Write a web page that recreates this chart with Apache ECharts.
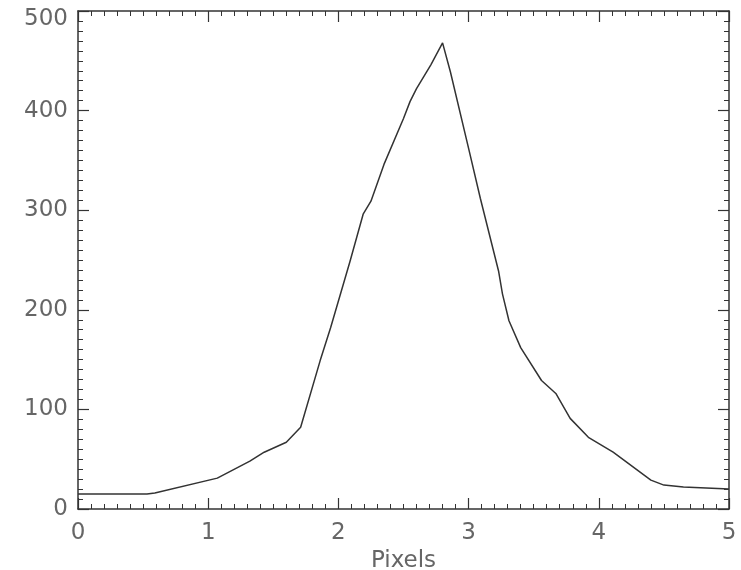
<!DOCTYPE html>
<html>
<head>
<meta charset="utf-8">
<script src="https://cdn.jsdelivr.net/npm/echarts@6/dist/echarts.min.js"></script>
<style>
  html, body { margin: 0; padding: 0; background: #fff; }
  #chart { width: 741px; height: 570px; }
</style>
</head>
<body>
<div id="chart"></div>
<script>
// profile
var pixelX = [0, 0.53, 0.59, 1.07, 1.32, 1.43, 1.6, 1.71, 1.86, 1.94, 2.09, 2.19, 2.25,
              2.35, 2.5, 2.55, 2.6, 2.71, 2.8, 2.86, 3.0, 3.09, 3.23, 3.26, 3.31, 3.4,
              3.56, 3.67, 3.78, 3.92, 4.11, 4.4, 4.5, 4.65, 5.0];
var counts = [15, 15, 16, 31, 48, 57, 67, 82, 149, 182, 249, 296, 309,
              346, 392, 409, 422, 446, 468, 439, 362, 312, 239, 216, 189, 162,
              129, 116, 91, 72, 57, 29, 24, 22, 20];
var xTicks = [0, 1, 2, 3, 4, 5];
var yTicks = [0, 100, 200, 300, 400, 500];

var lineData = [];
for (var i = 0; i < pixelX.length; i++) {
    lineData.push([pixelX[i], counts[i]]);
}

var frameColor = '#333';
var labelColor = '#666';
var fontFam = 'DejaVu Sans, sans-serif';

function axisBase(showLabel) {
    return {
        axisLine: { show: true, onZero: false, lineStyle: { color: frameColor, width: 1.5 } },
        axisTick: { show: true, inside: true, length: 11, lineStyle: { color: frameColor, width: 1.2 } },
        minorTick: { show: true, splitNumber: 10, length: 5, lineStyle: { color: frameColor, width: 1 } },
        splitLine: { show: false },
        minorSplitLine: { show: false },
        axisLabel: { show: showLabel, color: labelColor, fontSize: 23, fontFamily: fontFam }
    };
}

var xBottom = axisBase(true);
xBottom.type = 'value'; xBottom.min = 0; xBottom.max = 5; xBottom.interval = 1;
xBottom.position = 'bottom';
xBottom.axisLabel.margin = 13;
xBottom.axisLabel.formatter = function (v) { return xTicks.indexOf(v) >= 0 ? String(v) : ''; };
xBottom.name = 'Pixels';
xBottom.nameLocation = 'middle';
xBottom.nameGap = 37;
xBottom.nameTextStyle = { color: labelColor, fontSize: 23, fontFamily: fontFam };

var xTop = axisBase(false);
xTop.type = 'value'; xTop.min = 0; xTop.max = 5; xTop.interval = 1; xTop.position = 'top';

var yLeft = axisBase(true);
yLeft.type = 'value'; yLeft.min = 0; yLeft.max = 500; yLeft.interval = 100; yLeft.position = 'left';
yLeft.axisLabel.margin = 10;
yLeft.axisLabel.formatter = function (v) {
    if (yTicks.indexOf(v) < 0) return '';
    // top label sits a little below the frame, as in the original
    return v === 500 ? '{top|' + v + '}' : String(v);
};
yLeft.axisLabel.rich = {
    top: { color: labelColor, fontSize: 23, fontFamily: fontFam, padding: [16, 0, 0, 0] }
};

var yRight = axisBase(false);
yRight.type = 'value'; yRight.min = 0; yRight.max = 500; yRight.interval = 100; yRight.position = 'right';

var myChart = echarts.init(document.getElementById('chart'), null, { renderer: 'canvas' });
var option = {
    backgroundColor: '#fff',
    animation: false,
    grid: { left: 78, right: 12, top: 11, bottom: 61, containLabel: false, outerBoundsMode: 'none' },
    xAxis: [xBottom, xTop],
    yAxis: [yLeft, yRight],
    series: [
        {
            type: 'line',
            xAxisIndex: 0,
            yAxisIndex: 0,
            data: lineData,
            showSymbol: false,
            smooth: false,
            lineStyle: { color: '#333', width: 1.5 }
        }
    ]
};
myChart.setOption(option);
</script>
</body>
</html>
